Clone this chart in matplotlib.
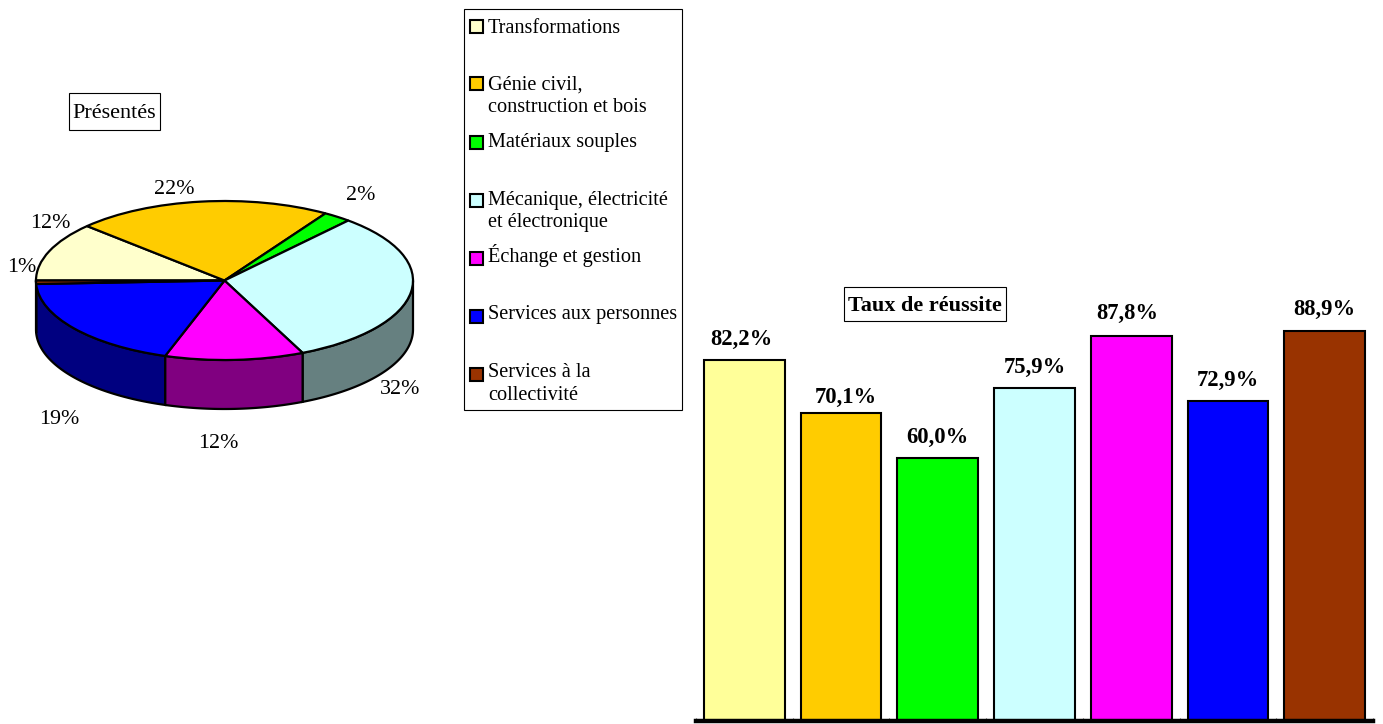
import numpy as np
import matplotlib
matplotlib.use('Agg')
import matplotlib.pyplot as plt
from matplotlib.patches import Rectangle

plt.rcParams['font.family'] = ['Liberation Serif', 'DejaVu Serif']

# donnees
filieres = ['Transformations', 'Génie civil,\nconstruction et bois', 'Matériaux souples',
            'Mécanique, électricité\net électronique', 'Échange et gestion',
            'Services aux personnes', 'Services à la\ncollectivité']
presentes = [12.0, 22.0, 2.4, 31.8, 11.9, 19.2, 0.7]
reussite = [82.2, 70.1, 60.0, 75.9, 87.8, 72.9, 88.9]
reussite_labels = ['82,2%', '70,1%', '60,0%', '75,9%', '87,8%', '72,9%', '88,9%']

couleurs_pie = ['#FFFFCC', '#FFCC00', '#00FF00', '#CCFFFF', '#FF00FF', '#0000FF', '#993300']
couleurs_cote = ['#808066', '#806600', '#008000', '#668080', '#800080', '#000080', '#4D1A00']
couleurs_bar = ['#FFFF99', '#FFCC00', '#00FF00', '#CCFFFF', '#FF00FF', '#0000FF', '#993300']

W, H = 1383, 724
fig = plt.figure(figsize=(W / 100, H / 100), dpi=100)


def axes_px(x0, y0, x1, y1):
    # rectangle en pixels, origine en haut a gauche
    return fig.add_axes([x0 / W, 1 - y1 / H, (x1 - x0) / W, (y1 - y0) / H])


# camembert
ax1 = axes_px(36, 201, 413, 360)
prof = 49 / 79.5
angles = 180 - np.cumsum([0] + presentes) / sum(presentes) * 360
for i in range(len(presentes)):
    hi = min(angles[i], 0)
    lo = max(angles[i + 1], -180)
    if hi <= lo:
        continue
    t = np.radians(np.linspace(hi, lo, 80))
    xs = np.concatenate([np.cos(t), np.cos(t[::-1])])
    ys = np.concatenate([np.sin(t), np.sin(t[::-1]) - prof])
    ax1.fill(xs, ys, facecolor=couleurs_cote[i], edgecolor='black', linewidth=1.6, clip_on=False, zorder=1)
wedges, _ = ax1.pie(presentes, colors=couleurs_pie, startangle=180, counterclock=False,
                    wedgeprops=dict(edgecolor='black', linewidth=1.6, zorder=2))
for w in wedges:
    w.set_clip_on(False)
ax1.set_aspect('auto')
ax1.set_xlim(-1, 1)
ax1.set_ylim(-1, 1)
ax1.axis('off')

# barres
ax2 = axes_px(696, 282, 1373, 721)
x = np.arange(len(reussite))
barres = ax2.bar(x, reussite, width=0.835, color=couleurs_bar, edgecolor='black', linewidth=1.5)
decal_x = [-3, 5, 0, 0, -4, 0, 0]
decal_y = [0, -5, -1, -1, 1, 0, 0]
for b, lab, dx, dy in zip(barres, reussite_labels, decal_x, decal_y):
    ax2.annotate(lab, (b.get_x() + b.get_width() / 2, b.get_height()), xytext=(dx * 0.72, 15 + dy * 0.72),
                 textcoords='offset points', ha='center', va='center',
                 fontsize=16.3, fontweight='bold', annotation_clip=False)
ax2.set_xlim(-0.5, 6.5)
ax2.set_ylim(0, 100)
ax2.set_yticks([])
ax2.set_xticks(np.arange(-0.5, 7, 1))
ax2.tick_params(axis='x', direction='in', length=2, width=0.8, labelbottom=False, color='#555555')
for s in ['top', 'left', 'right']:
    ax2.spines[s].set_visible(False)
ax2.spines['bottom'].set_linewidth(3.2)

# textes et legende en pixels
ov = fig.add_axes([0, 0, 1, 1], zorder=5)
ov.set_xlim(0, W)
ov.set_ylim(H, 0)
ov.axis('off')

etiquettes_pos = [(50, 224), (174, 189), (361, 195), (400, 390), (218, 444), (59, 420), (22, 267)]
for v, (px, py) in zip(presentes, etiquettes_pos):
    ov.text(px, py, f'{v:.0f}%', ha='center', va='center', fontsize=15.8)

ov.add_patch(Rectangle((69, 93), 91, 37, fc='white', ec='black', lw=0.8))
ov.text(114.5, 113.5, 'Présentés', ha='center', va='center', fontsize=16)
ov.add_patch(Rectangle((844, 287), 162, 34, fc='white', ec='black', lw=0.8))
ov.text(925, 306, 'Taux de réussite', ha='center', va='center', fontsize=16, fontweight='bold')

ov.add_patch(Rectangle((464, 9), 218, 401, fc='white', ec='black', lw=0.8))
leg_y = [26, 83, 142, 200, 258, 316, 374]
leg_base = [33, 90, 147, 205, 262, 319, 377]
for nom, c, y, yb in zip(filieres, couleurs_pie, leg_y, leg_base):
    ov.add_patch(Rectangle((470, y - 6.5), 13, 13, fc=c, ec='black', lw=1.5))
    for k, ligne in enumerate(nom.split('\n')):
        ov.text(488, yb + k * 22.5, ligne, ha='left', va='baseline', fontsize=14.6)

fig.savefig('out.png', dpi=100)
